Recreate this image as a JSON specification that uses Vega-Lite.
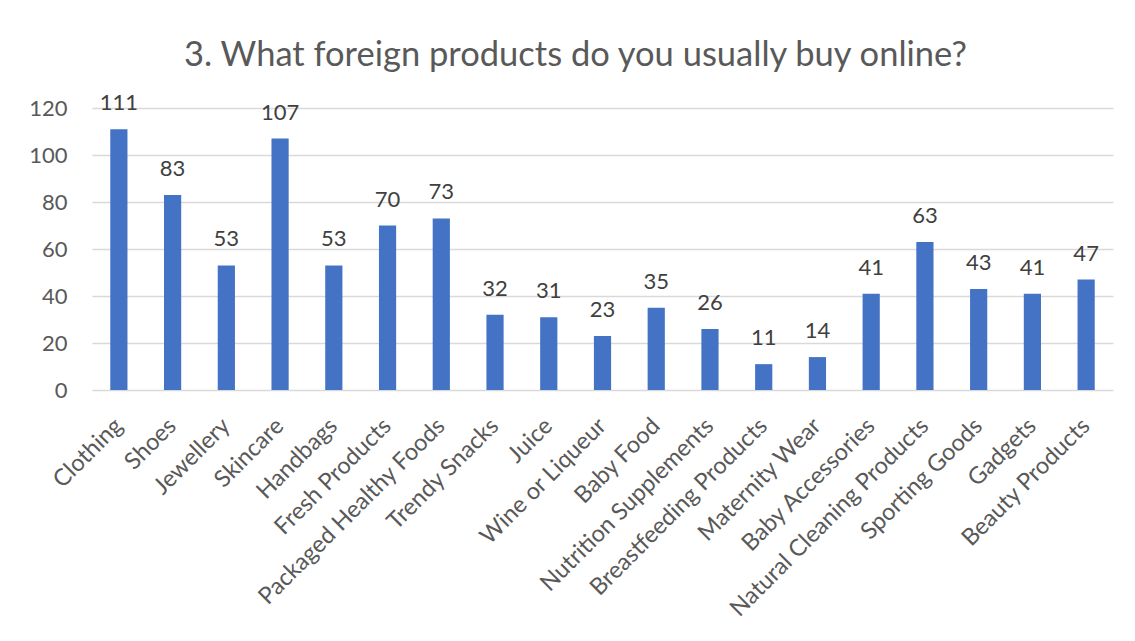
{
  "$schema": "https://vega.github.io/schema/vega-lite/v6.json",
  "width": 1021,
  "height": 282,
  "autosize": "none",
  "padding": {"left": 92, "top": 108, "right": 22, "bottom": 251},
  "background": "white",
  "title": {
    "text": "3. What foreign products do you usually buy online?",
    "font": "Lato",
    "fontSize": 34.5,
    "fontWeight": "normal",
    "color": "#595959",
    "anchor": "middle",
    "offset": 19,
    "dx": -27
  },
  "config": {
    "view": {"stroke": null},
    "font": "Lato"
  },
  "data": {
    "values": [
      {"product": "Clothing", "count": 111},
      {"product": "Shoes", "count": 83},
      {"product": "Jewellery", "count": 53},
      {"product": "Skincare", "count": 107},
      {"product": "Handbags", "count": 53},
      {"product": "Fresh Products", "count": 70},
      {"product": "Packaged Healthy Foods", "count": 73},
      {"product": "Trendy Snacks", "count": 32},
      {"product": "Juice", "count": 31},
      {"product": "Wine or Liqueur", "count": 23},
      {"product": "Baby Food", "count": 35},
      {"product": "Nutrition Supplements", "count": 26},
      {"product": "Breastfeeding Products", "count": 11},
      {"product": "Maternity Wear", "count": 14},
      {"product": "Baby Accessories", "count": 41},
      {"product": "Natural Cleaning Products", "count": 63},
      {"product": "Sporting Goods", "count": 43},
      {"product": "Gadgets", "count": 41},
      {"product": "Beauty Products", "count": 47}
    ]
  },
  "encoding": {
    "x": {
      "field": "product",
      "type": "nominal",
      "sort": null,
      "scale": {"paddingInner": 0.68, "paddingOuter": 0.34},
      "axis": {
        "title": null,
        "labelAngle": -45,
        "labelAlign": "right",
        "labelBaseline": "middle",
        "labelFontSize": 23.5,
        "labelColor": "#595959",
        "labelPadding": 32,
        "ticks": false,
        "domain": false,
        "labelLimit": 400
      }
    },
    "y": {
      "field": "count",
      "type": "quantitative",
      "scale": {"domain": [0, 120], "nice": false},
      "axis": {
        "title": null,
        "values": [0, 20, 40, 60, 80, 100, 120],
        "labelFontSize": 22,
        "labelColor": "#595959",
        "labelPadding": 25,
        "ticks": false,
        "domain": false,
        "gridColor": "#d9d9d9",
        "gridWidth": 1.3
      }
    }
  },
  "layer": [
    {"mark": {"type": "bar", "color": "#4472C4"}},
    {
      "mark": {"type": "text", "dy": -26, "fontSize": 22, "color": "#404040", "baseline": "middle"},
      "encoding": {"text": {"field": "count", "type": "quantitative"}}
    }
  ]
}
